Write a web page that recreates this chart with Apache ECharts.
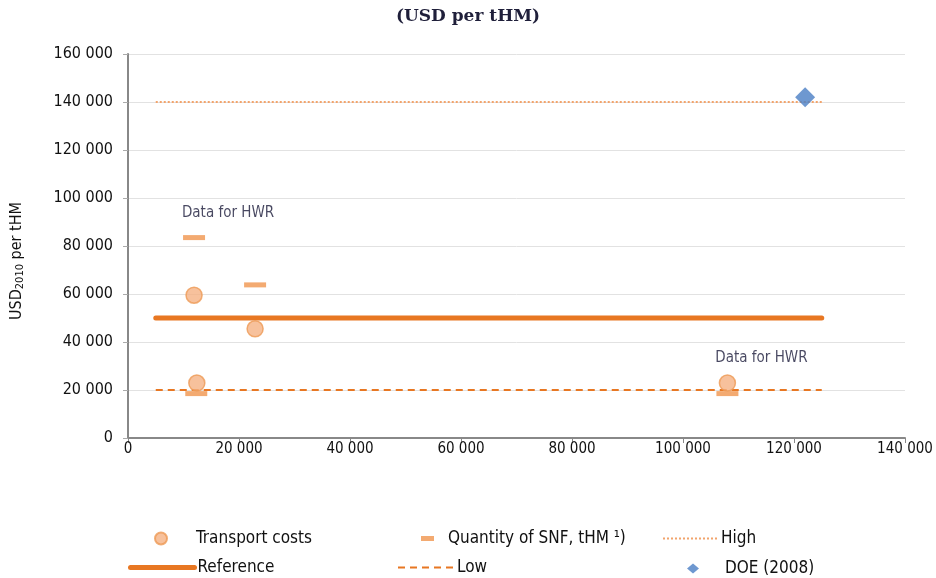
<!DOCTYPE html>
<html>
<head>
<meta charset="utf-8">
<script src="https://cdn.jsdelivr.net/npm/echarts@6/dist/echarts.min.js"></script>
<style>
  html, body { margin: 0; padding: 0; background: #fff; }
  #chart { width: 936px; height: 578px; }
</style>
</head>
<body>
<div id="chart"></div>
<script>
// values
var transportCosts = [[11900, 59500], [22900, 45500], [12400, 22900], [108000, 22900]];
var snfQuantity = [[11900, 83500], [22900, 63800], [12300, 18500], [108000, 18500]];
var lineX = [5000, 125000];
var referenceLevel = 50000;
var lowLevel = 20000;
var highLevel = 140000;
var doe2008 = [[122000, 142000]];
var hwrLabelPoints = [0, 3]; // which points carry "Data for HWR"

var orange = '#E87722';
var lightOrange = '#F5B183';
var narrow = '"DejaVu Sans Condensed", "Liberation Sans Narrow", sans-serif';

function fmt(v) {
  return String(v).replace(/\B(?=(\d{3})+(?!\d))/g, ' ');
}

function hline(level) {
  return lineX.map(function (x) { return [x, level]; });
}

var myChart = echarts.init(document.getElementById('chart'));

function hwrLabel(dx, dist) {
  return {
    show: true, position: 'top', distance: dist, offset: [dx, 0],
    formatter: 'Data for HWR', color: '#1a1a3a',
    fontFamily: narrow, fontSize: 15
  };
}

function legendAt(name, left, top, w, h, pad, hideSymbol, lineW) {
  var item = { name: name };
  if (hideSymbol) item.itemStyle = { opacity: 0 };
  if (lineW) item.lineStyle = { width: lineW };
  return {
    data: [item], left: left, top: top,
    itemWidth: w, itemHeight: h,
    textStyle: { fontFamily: narrow, fontSize: 17, color: '#111', padding: [0, 0, 0, pad] },
    selectedMode: false
  };
}

var option = {
  animation: false,
  title: {
    text: '(USD per tHM)', left: 'center', top: 3,
    textStyle: { fontFamily: '"DejaVu Serif", "Liberation Serif", serif', fontWeight: 'bold', fontSize: 17, color: '#1f1f3a' }
  },
  grid: { left: 128, right: 31, top: 54, bottom: 140 },
  legend: [
    legendAt('Transport costs', 149, 525, 12, 12, 24, false),
    legendAt('Quantity of SNF, tHM ¹)', 416, 525, 13, 5, 9, false),
    legendAt('High', 657, 525, 55, 12, -2, true),
    legendAt('Reference', 123, 554, 64, 12, -2, true, 5),
    legendAt('Low', 392, 554, 58, 12, -4, true),
    legendAt('DOE (2008)', 682, 555, 12, 10, 21, false)
  ],
  xAxis: {
    type: 'value', min: 0, max: 140000, interval: 20000,
    axisLine: { lineStyle: { color: '#888', width: 2 } },
    axisTick: { show: true, length: 5, lineStyle: { color: '#888' } },
    splitLine: { show: false },
    axisLabel: { formatter: fmt, fontFamily: narrow, fontSize: 15, color: '#111', margin: 4 }
  },
  yAxis: {
    type: 'value', min: 0, max: 160000, interval: 20000,
    name: '{a|USD}{b|2010}{a| per tHM}', nameLocation: 'middle', nameGap: 102, nameRotate: 90,
    nameTextStyle: {
      padding: [0, 30, 0, 0],
      rich: {
        a: { fontFamily: narrow, fontSize: 16, color: '#111' },
        b: { fontFamily: narrow, fontSize: 11, color: '#111', verticalAlign: 'bottom', padding: [7, 0, 0, 0] }
      }
    },
    axisLine: { show: true, lineStyle: { color: '#888', width: 2 } },
    axisTick: { show: true, length: 5, lineStyle: { color: '#aaa' } },
    splitLine: { lineStyle: { color: '#e2e2e2' } },
    axisLabel: { formatter: fmt, fontFamily: narrow, fontSize: 16, color: '#111', margin: 15 }
  },
  series: [
    {
      name: 'Reference', type: 'line', data: hline(referenceLevel), symbol: 'none',
      lineStyle: { color: orange, width: 5, cap: 'round' }, itemStyle: { color: orange }, z: 2
    },
    {
      name: 'Low', type: 'line', data: hline(lowLevel), symbol: 'none',
      lineStyle: { color: orange, width: 2, type: [7, 5] }, itemStyle: { color: orange }, z: 2
    },
    {
      name: 'High', type: 'line', data: hline(highLevel), symbol: 'none',
      lineStyle: { color: '#F2A46C', width: 2, type: [2, 2] }, itemStyle: { color: '#F2A46C' }, z: 2
    },
    {
      name: 'Quantity of SNF, tHM ¹)', type: 'scatter', symbol: 'rect', symbolSize: [22, 5],
      itemStyle: { color: '#F0954E' }, z: 3,
      data: snfQuantity.map(function (p, i) {
        return i === hwrLabelPoints[0] ? { value: p, label: hwrLabel(34, 14) } : p;
      })
    },
    {
      name: 'Transport costs', type: 'scatter', symbol: 'circle', symbolSize: 16,
      itemStyle: { color: lightOrange, borderColor: '#EE9A55', borderWidth: 1.5 }, z: 4,
      data: transportCosts.map(function (p, i) {
        return i === hwrLabelPoints[1] ? { value: p, label: hwrLabel(34, 9) } : p;
      })
    },
    {
      name: 'DOE (2008)', type: 'scatter', symbol: 'diamond', symbolSize: [20, 20],
      itemStyle: { color: '#4A7EC4' }, data: doe2008, z: 5
    }
  ]
};

myChart.setOption(option);
</script>
</body>
</html>
